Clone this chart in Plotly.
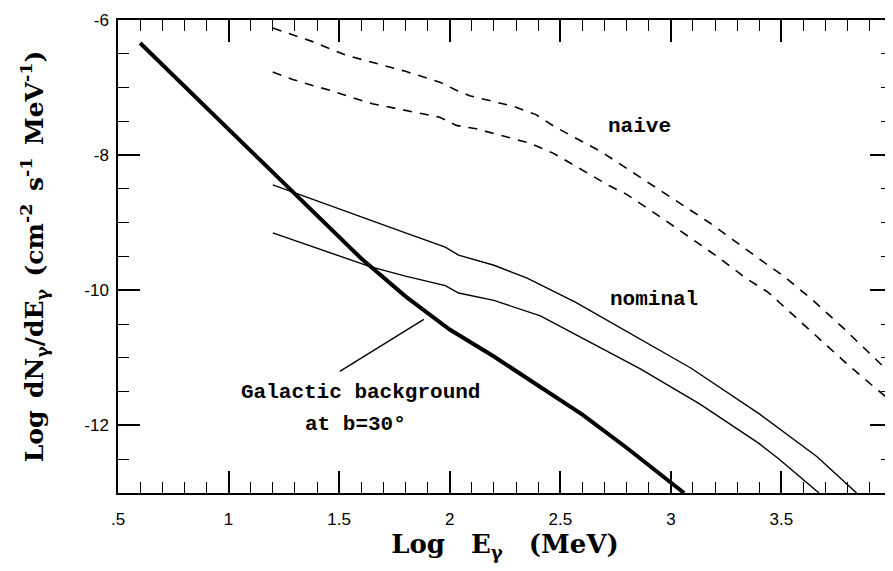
import plotly.graph_objects as go

# ---- data ----
bg_x = [0.6, 0.8, 1.0, 1.2, 1.4, 1.6, 1.8, 2.0, 2.2, 2.4, 2.6, 2.8, 3.0, 3.06]
bg_y = [-6.34, -6.98, -7.63, -8.27, -8.90, -9.53, -10.09, -10.58, -10.98, -11.41, -11.84, -12.33, -12.85, -13.0]

nom_hi_x = [1.2, 1.4, 1.6, 1.8, 1.98, 2.04, 2.2, 2.35, 2.57, 2.8, 3.09, 3.4, 3.66, 3.84]
nom_hi_y = [-8.44, -8.68, -8.92, -9.15, -9.36, -9.48, -9.63, -9.82, -10.18, -10.61, -11.15, -11.83, -12.46, -13.0]

nom_lo_x = [1.2, 1.4, 1.64, 1.8, 1.98, 2.04, 2.2, 2.41, 2.6, 2.86, 3.13, 3.4, 3.49, 3.67]
nom_lo_y = [-9.15, -9.38, -9.65, -9.79, -9.93, -10.04, -10.15, -10.38, -10.71, -11.16, -11.68, -12.27, -12.50, -13.0]

naive_hi_x = [1.2, 1.28, 1.38, 1.53, 1.65, 1.8, 1.955, 2.03, 2.09, 2.29, 2.39, 2.47, 2.69, 2.77,
              2.934, 3.175, 3.41, 3.506, 3.64, 3.777, 3.92, 4.0]
naive_hi_y = [-6.12, -6.21, -6.32, -6.52, -6.63, -6.76, -6.92, -7.04, -7.12, -7.28, -7.40, -7.57, -7.96, -8.13,
              -8.49, -9.0, -9.56, -9.78, -10.14, -10.55, -11.0, -11.25]

naive_lo_x = [1.2, 1.29, 1.38, 1.47, 1.56, 1.65, 1.744, 1.955, 2.03, 2.12, 2.36, 2.467, 2.557, 2.72, 2.8,
              2.964, 3.205, 3.348, 3.44, 3.6, 3.8, 3.94, 4.0]
naive_lo_y = [-6.77, -6.88, -6.97, -7.05, -7.15, -7.24, -7.30, -7.44, -7.56, -7.61, -7.82, -7.97, -8.14, -8.45, -8.58,
              -8.94, -9.49, -9.84, -10.03, -10.5, -11.1, -11.49, -11.65]

x_tickvals = [0.5, 1.0, 1.5, 2.0, 2.5, 3.0, 3.5, 4.0]
x_ticktext = [".5", "1", "1.5", "2", "2.5", "3", "3.5", "4"]
y_tickvals = [-6, -8, -10, -12]
y_ticktext = ["-6", "-8", "-10", "-12"]
x_minor_step = 0.1
y_minor_step = 0.5
x_range = [0.5, 4.0]
y_range = [-13, -6]

label_naive = "naive"
label_nominal = "nominal"
label_bg1 = "Galactic background"
label_bg2 = "at b=30°"
SP = "\u2002"
SPW = "\u2003"
x_title = f"<b>Log{SPW}E<sub>γ</sub>{SPW}(MeV)</b>"
y_title = (f"<b>Log{SP}dN<sub>γ</sub>/dE<sub>γ</sub>{SP}(cm<sup>-2</sup>{SP}"
           f"s<sup>-1</sup>{SP}MeV<sup>-1</sup>)</b>")

# pointer from label to background curve (data coords)
pointer = [(1.503, -11.20), (1.883, -10.43)]

SERIF = "DejaVu Serif"
MONO = "Liberation Mono"
SANS = "Liberation Sans, Arial, sans-serif"

fig = go.Figure()
fig.add_trace(go.Scatter(x=bg_x, y=bg_y, mode="lines", line=dict(color="black", width=4), showlegend=False))
for xs, ys in [(nom_hi_x, nom_hi_y), (nom_lo_x, nom_lo_y)]:
    fig.add_trace(go.Scatter(x=xs, y=ys, mode="lines", line=dict(color="black", width=1.4), showlegend=False))
for xs, ys in [(naive_hi_x, naive_hi_y), (naive_lo_x, naive_lo_y)]:
    fig.add_trace(go.Scatter(x=xs, y=ys, mode="lines",
                             line=dict(color="black", width=1.6, dash="9px,8px"), showlegend=False))
# placeholder trace so that the minor-tick overlay axes get drawn
fig.add_trace(go.Scatter(x=[None], y=[None], xaxis="x2", yaxis="y2", showlegend=False, hoverinfo="skip"))

fig.add_shape(type="line", x0=pointer[0][0], y0=pointer[0][1], x1=pointer[1][0], y1=pointer[1][1],
              xref="x", yref="y", line=dict(color="black", width=1.4))

ann_font = dict(family=MONO, size=21, color="black")
fig.add_annotation(x=2.859, y=-7.58, text=f"<b>{label_naive}</b>", showarrow=False, font=ann_font)
fig.add_annotation(x=2.922, y=-10.14, text=f"<b>{label_nominal}</b>", showarrow=False, font=ann_font)
fig.add_annotation(x=1.598, y=-11.52, text=f"<b>{label_bg1}</b>", showarrow=False, font=ann_font)
fig.add_annotation(x=1.575, y=-11.99, text=f"<b>{label_bg2}</b>", showarrow=False, font=ann_font)

fig.update_layout(
    width=893, height=571,
    margin=dict(l=110, r=9, t=12, b=86, autoexpand=False),
    paper_bgcolor="white", plot_bgcolor="rgba(0,0,0,0)",
    xaxis=dict(
        range=x_range, tickmode="array", tickvals=x_tickvals, ticktext=x_ticktext,
        showgrid=False, zeroline=False, showline=True, linecolor="black", linewidth=1.5,
        mirror="allticks", ticks="inside", ticklen=22, tickwidth=1.5, tickcolor="black",
        tickfont=dict(family=SANS, size=17, color="black"), ticklabelstandoff=10,
        title=dict(text=x_title, font=dict(family=SERIF, size=26, color="black"), standoff=5),
    ),
    yaxis=dict(
        range=y_range, tickmode="array", tickvals=y_tickvals, ticktext=y_ticktext,
        showgrid=False, zeroline=False, showline=True, linecolor="black", linewidth=1.5,
        mirror="allticks", ticks="inside", ticklen=22, tickwidth=1.5, tickcolor="black",
        tickfont=dict(family=SANS, size=17, color="black"), ticklabelstandoff=4,
        title=dict(text=y_title, font=dict(family=SERIF, size=25, color="black"), standoff=34),
    ),
    xaxis2=dict(
        overlaying="x", anchor="y2", side="bottom", range=x_range,
        tickmode="linear", tick0=x_range[0], dtick=x_minor_step,
        showgrid=False, zeroline=False, showline=True, linecolor="black", linewidth=1.5,
        mirror="allticks", ticks="inside", ticklen=11, tickwidth=1.2, tickcolor="black",
        showticklabels=False,
    ),
    yaxis2=dict(
        overlaying="y", anchor="x2", side="left", range=y_range,
        tickmode="linear", tick0=y_range[0], dtick=y_minor_step,
        showgrid=False, zeroline=False, showline=True, linecolor="black", linewidth=1.5,
        mirror="allticks", ticks="inside", ticklen=11, tickwidth=1.2, tickcolor="black",
        showticklabels=False,
    ),
)

fig.write_html("out.html")
